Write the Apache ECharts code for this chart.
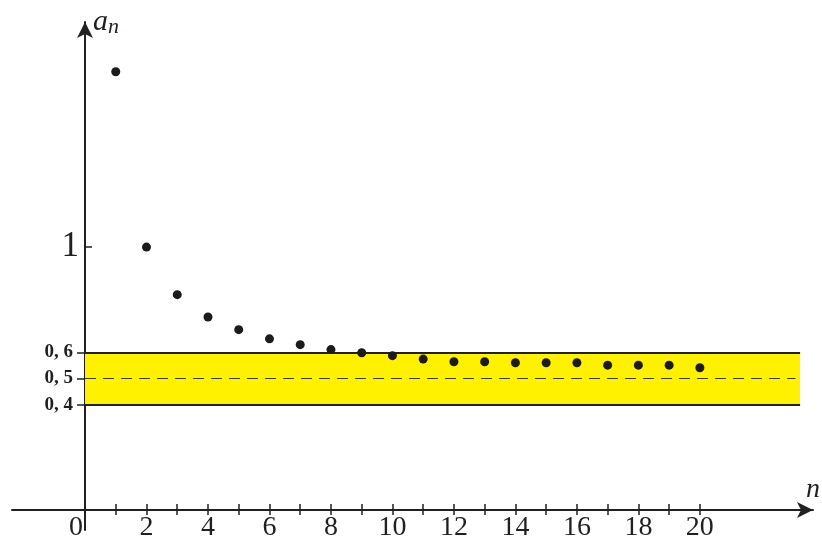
<!DOCTYPE html>
<html><head><meta charset="utf-8">
<script src="https://cdn.jsdelivr.net/npm/echarts@6/dist/echarts.min.js"></script>
<style>html,body{margin:0;padding:0;background:#fff}#c{width:822px;height:539px}</style>
</head><body><div id="c"></div>
<script>
// ---- data ----
const nValues = [1,2,3,4,5,6,7,8,9,10,11,12,13,14,15,16,17,18,19,20];
const aValues = [1.667,1.0,0.819,0.734,0.686,0.651,0.629,0.610,0.598,0.587,0.574,0.564,0.564,0.560,0.560,0.560,0.551,0.551,0.551,0.541];
const xTickValues = [1,2,3,4,5,6,7,8,9,10,11,12,13,14,15,16,17,18,19,20];
const xLabelValues = [0,2,4,6,8,10,12,14,16,18,20];
const yLabelValues = [0.4,0.5,0.6,1];
const yTickLeftValues = [0.4,0.5,0.6];
const yTickRightValues = [1];
const bandLow = 0.4;
const bandHigh = 0.6;
const limitValue = 0.5;
const bandStartN = 0;
const bandEndN = 23.26;

const ink = '#231f20';
const serif = '"Liberation Serif","DejaVu Serif",serif';
const xMin = -2.375, xMax = 23.68, yMin = -0.076, yMax = 1.856;
// axes cross at the origin: shift the axes from the grid edges to the zero lines
const xAxisOffset = -20, yAxisOffset = -73;

const chart = echarts.init(document.getElementById('c'), null, {renderer: 'canvas'});
const baseX = {type: 'value', min: xMin, max: xMax, splitLine: {show: false}, position: 'bottom', offset: xAxisOffset};
const baseY = {type: 'value', min: yMin, max: yMax, splitLine: {show: false}, position: 'left', offset: yAxisOffset};
chart.setOption({
  animation: false,
  backgroundColor: '#fff',
  grid: {left: 12, right: 9, top: 22, bottom: 9, containLabel: false, outerBoundsMode: 'none'},
  xAxis: [
    Object.assign({}, baseX, {
      name: 'n', nameLocation: 'end', nameGap: 0,
      nameTextStyle: {fontFamily: serif, fontStyle: 'italic', fontSize: 28, color: ink, align: 'center', verticalAlign: 'bottom', padding: [0, 0, 6, 0]},
      axisLine: {onZero: false, lineStyle: {color: ink, width: 2}, symbol: ['none', 'arrow'], symbolSize: [12, 16]},
      axisTick: {show: true, inside: false, length: 5, customValues: xTickValues, lineStyle: {color: ink, width: 1.5}},
      axisLabel: {
        show: true, customValues: xLabelValues, margin: 4,
        fontFamily: serif, fontSize: 28, color: ink,
        formatter: v => v === 0 ? '{z|0}' : String(v),
        rich: {z: {fontFamily: serif, fontSize: 28, color: ink, padding: [0, 18, 0, 0]}}
      }
    }),
    Object.assign({}, baseX, {
      axisLine: {onZero: false, show: false},
      axisTick: {show: true, inside: true, length: 6, customValues: xTickValues, lineStyle: {color: ink, width: 1.5}},
      axisLabel: {show: false}
    })
  ],
  yAxis: [
    Object.assign({}, baseY, {
      name: '{a|a}{n|n}', nameLocation: 'end', nameGap: 0,
      nameTextStyle: {
        align: 'left', verticalAlign: 'middle', padding: [0, 0, 0, 8],
        rich: {
          a: {fontFamily: serif, fontStyle: 'italic', fontSize: 30, color: ink},
          n: {fontFamily: serif, fontStyle: 'italic', fontSize: 22, color: ink, verticalAlign: 'bottom', padding: [10, 0, 0, 0]}
        }
      },
      axisLine: {onZero: false, lineStyle: {color: ink, width: 2}, symbol: ['none', 'arrow'], symbolSize: [12, 16]},
      axisTick: {show: true, inside: false, length: 8, customValues: yTickLeftValues, lineStyle: {color: ink, width: 1.5}},
      axisLabel: {
        show: true, customValues: yLabelValues, margin: 6,
        formatter: v => v === 1 ? '{big|1}' : '{small|' + String(v).replace('.', ', ') + '}',
        rich: {
          big: {fontFamily: serif, fontSize: 35, color: ink},
          small: {fontFamily: serif, fontSize: 19, fontWeight: 'bold', color: ink, padding: [0, 6, 0, 0]}
        }
      }
    }),
    Object.assign({}, baseY, {
      axisLine: {onZero: false, show: false},
      axisTick: {show: true, inside: true, length: 7, customValues: yTickRightValues, lineStyle: {color: ink, width: 1.5}},
      axisLabel: {show: false}
    })
  ],
  series: [{
    type: 'scatter',
    xAxisIndex: 0, yAxisIndex: 0,
    data: nValues.map((n, i) => [n, aValues[i]]),
    symbol: 'circle', symbolSize: 9,
    itemStyle: {color: '#1c1a1b', opacity: 1},
    z: 5,
    markArea: {
      silent: true,
      itemStyle: {color: '#fff100', opacity: 1},
      data: [[{coord: [bandStartN, bandLow]}, {coord: [bandEndN, bandHigh]}]]
    },
    markLine: {
      silent: true, symbol: ['none', 'none'], label: {show: false},
      data: [
        [{coord: [bandStartN, bandHigh], lineStyle: {color: ink, width: 2, type: 'solid', opacity: 1}}, {coord: [bandEndN, bandHigh]}],
        [{coord: [bandStartN, bandLow], lineStyle: {color: ink, width: 2, type: 'solid', opacity: 1}}, {coord: [bandEndN, bandLow]}],
        [{coord: [bandStartN, limitValue], lineStyle: {color: '#3a3a3a', width: 1.2, type: [11, 7], opacity: 1}}, {coord: [bandEndN - 0.15, limitValue]}]
      ]
    }
  }]
});
</script>
</body></html>
